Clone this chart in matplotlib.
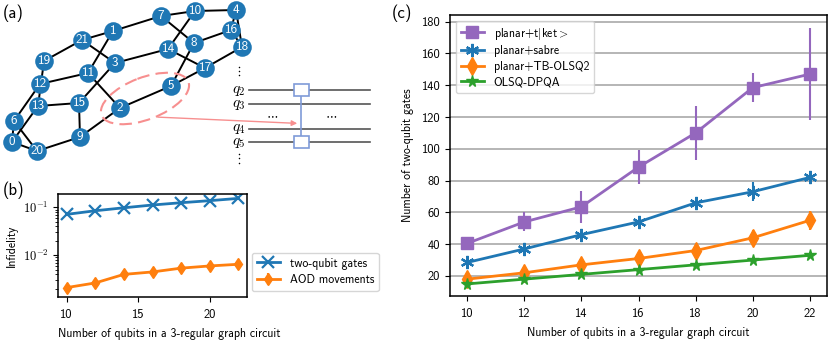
import matplotlib.pyplot as plt
from matplotlib.patches import Ellipse, Rectangle
from matplotlib.ticker import NullFormatter

plt.rcParams['font.family'] = ['cmss10', 'DejaVu Sans']
plt.rcParams['mathtext.fontset'] = 'cm'
plt.rcParams['axes.unicode_minus'] = False
plt.rcParams['axes.linewidth'] = 1.1

W, H = 830, 340

# panel (b) + (c) data
qubits = [10, 12, 14, 16, 18, 20, 22]
two_qubit = [0.0714, 0.085, 0.098, 0.112, 0.125, 0.138, 0.154]
aod = [0.00212, 0.00265, 0.0040, 0.0045, 0.0054, 0.0060, 0.0065]
aod_err = [0.0004, 0.0004, 0.0010, 0.0006, 0.0012, 0.0010, 0.0012]

tket = [40.5, 54, 63.5, 88.5, 110, 138.5, 147]
tket_err = [2, 6, 10, 10.5, 17, 9, 29]
sabre = [28.5, 37, 46, 54, 66, 73, 82]
sabre_err = [2, 3, 2, 2, 3, 6, 3]
tb = [18, 22, 27, 31, 36, 44, 55]
tb_err = [3, 3, 3, 3, 4, 5, 6]
dpqa = [15, 18, 21, 24, 27, 30, 33]

# panel (a) graph
nodes = {0: (12, 142), 1: (113, 31), 2: (120, 108), 3: (115, 63), 4: (236, 10),
         5: (171, 86), 6: (14, 121), 7: (161, 16), 8: (194, 43), 9: (80, 137),
         10: (195, 11), 11: (88, 73), 12: (40, 84), 13: (38, 106), 14: (168, 49),
         15: (79, 103), 16: (231, 30), 17: (205, 68), 18: (242, 47), 19: (44, 61),
         20: (37, 151), 21: (82, 40)}
edges = [(19, 21), (19, 13), (21, 1), (21, 3), (1, 7), (1, 11), (7, 10), (7, 8),
         (10, 4), (10, 14), (4, 16), (4, 18), (16, 8), (16, 18), (8, 5), (14, 3),
         (14, 17), (17, 18), (17, 5), (5, 2), (2, 11), (2, 9), (11, 12), (3, 15),
         (15, 13), (15, 9), (9, 20), (12, 6), (13, 0), (6, 20), (6, 0), (0, 20)]
wires = {'$q_2$': 89.5, '$q_3$': 104, '$q_4$': 128.5, '$q_5$': 142}

# whole figure overlay in pixel coords
bg = plt.figure(figsize=(W / 100, H / 100), dpi=100)
ax0 = bg.add_axes([0, 0, 1, 1])
ax0.set_xlim(0, W)
ax0.set_ylim(H, 0)
ax0.axis('off')

for a, b in edges:
    ax0.plot([nodes[a][0], nodes[b][0]], [nodes[a][1], nodes[b][1]], color='black', lw=1.4, zorder=1)
for n, (x, y) in nodes.items():
    ax0.plot(x, y, 'o', ms=13.4, color='#1f77b4', mec='none', zorder=2)
    ax0.text(x, y, str(n), color='white', fontsize=9.5, ha='center', va='center', zorder=3)

ax0.add_patch(Ellipse((145, 98.5), 93, 42, angle=-21, fill=False, ec='#f78f8f', lw=1.5,
                      ls=(0, (6, 3)), zorder=4))
ax0.annotate('', xy=(300, 123.5), xytext=(155, 117),
             arrowprops=dict(arrowstyle='-|>', color='#f78f8f', lw=1, mutation_scale=8), zorder=4)

for lab, y in wires.items():
    ax0.plot([249, 370], [y, y], color='#555555', lw=1.2, zorder=1)
    ax0.text(239, y + 1, lab, fontsize=11, ha='center', va='center')
ax0.plot([301, 301], [89.5, 142], color='#7f9bd8', lw=1.2, zorder=1)
for y in [89.5, 142]:
    ax0.add_patch(Rectangle((293.5, y - 6), 15, 12, fc='white', ec='#7f9bd8', lw=1.2, zorder=2))
ax0.text(272, 115, r'$\cdots$', fontsize=9, ha='center', va='center')
ax0.text(331, 115, r'$\cdots$', fontsize=9, ha='center', va='center')
for y in [67, 71, 75, 154, 158, 163]:
    ax0.plot(239, y, 'o', ms=1.1, mec='none', color='black')

ax0.text(3, 13, '(a)', fontsize=12, va='center')
ax0.text(3, 190, '(b)', fontsize=12, va='center')
ax0.text(392, 13, '(c)', fontsize=12, va='center')

# panel (b)
ax1 = bg.add_axes([58 / W, 1 - 297 / H, 189 / W, 103 / H])
ax1.errorbar(qubits, two_qubit, color='#1f77b4', marker='x', ms=8, mew=1.6, lw=2,
             label='two-qubit gates')
ax1.errorbar(qubits, aod, yerr=aod_err, color='#ff7f0e', marker='d', ms=6, lw=2,
             elinewidth=1.5, label='AOD movements')
ax1.set_yscale('log')
ax1.set_xlim(9.4, 22.6)
ax1.set_ylim(0.00135, 0.19)
ax1.set_xticks([10, 15, 20])
ax1.set_yticks([0.1, 0.01], [r'$\mathsf{10}^{-\mathsf{1}}$', r'$\mathsf{10}^{-\mathsf{2}}$'])
ax1.yaxis.set_minor_formatter(NullFormatter())
ax1.tick_params(labelsize=9, pad=5)
ax1.tick_params(axis='y', pad=3.5)
ax1.set_xlabel('Number of qubits in a 3-regular graph circuit', fontsize=8.5, labelpad=5, x=0.59)
ax1.set_ylabel('Infidelity', fontsize=8.5)
ax1.yaxis.set_label_coords((17.5 - 58) / 189, 0.5)
ax1.legend(loc='lower left', bbox_to_anchor=(1.026, 0.058), fontsize=8.5, handlelength=2,
           borderaxespad=0, labelspacing=0.4)

# panel (c)
ax2 = bg.add_axes([450 / W, 1 - 296 / H, 377 / W, 281 / H])
ax2.errorbar(qubits, tket, yerr=tket_err, color='#9467bd', marker='s', ms=8.5, lw=2,
             elinewidth=1.5, label='planar+t$|$ket$>$')
ax2.errorbar(qubits, sabre, yerr=sabre_err, color='#1f77b4', marker=(6, 2, 0), ms=9.5, mew=1.6, lw=2,
             elinewidth=1.5, label='planar+sabre')
ax2.errorbar(qubits, tb, yerr=tb_err, color='#ff7f0e', marker='d', ms=9, lw=2,
             elinewidth=1.5, label='planar+TB-OLSQ2')
ax2.errorbar(qubits, dpqa, color='#2ca02c', marker='*', ms=8.5, lw=2, label='OLSQ-DPQA')
ax2.set_xlim(9.4, 22.6)
ax2.set_ylim(7.4, 184.2)
ax2.set_xticks(qubits)
ax2.set_yticks(range(20, 181, 20))
ax2.grid(axis='y', color='#b0b0b0', lw=1.3)
ax2.set_axisbelow(True)
ax2.tick_params(labelsize=9, pad=5)
ax2.tick_params(axis='y', pad=3.5)
ax2.set_xlabel('Number of qubits in a 3-regular graph circuit', fontsize=8.5, labelpad=5)
ax2.set_ylabel('Number of two-qubit gates', fontsize=8.5)
ax2.yaxis.set_label_coords((414 - 450) / 377, 0.5)
ax2.legend(loc='upper left', fontsize=8.5, handlelength=2, labelspacing=0.3)

bg.savefig('out.png', dpi=100)
